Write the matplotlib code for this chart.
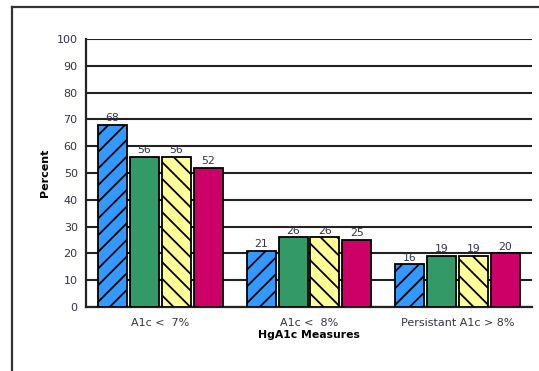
import matplotlib.pyplot as plt
import numpy as np
from matplotlib.lines import Line2D

plt.rcParams["hatch.linewidth"] = 1.3

categories = ["A1c <  7%", "A1c <  8%", "Persistant A1c > 8%"]
series_a = [68, 21, 16]
series_b = [56, 26, 19]
series_c = [56, 26, 19]
series_d = [52, 25, 20]

colors = ["#3399FF", "#339966", "#FFFF99", "#CC0066"]
hatches = ["//", "", "\\\\", ""]

fig = plt.figure(figsize=(5.39, 3.71), dpi=100, facecolor="white")
ax = fig.add_axes([0.1596, 0.1725, 0.8274, 0.7224])

x = np.arange(len(categories))
width = 0.195
step = 0.215
offsets = [-1.5, -0.5, 0.5, 1.5]
for vals, off, col, h in zip([series_a, series_b, series_c, series_d], offsets, colors, hatches):
    bars = ax.bar(x + off * step, vals, width, color=col, hatch=h,
                  edgecolor="black", linewidth=1.3, zorder=3)
    for b, v in zip(bars, vals):
        ax.text(b.get_x() + b.get_width() / 2, v + 0.6, f"{v}", ha="center", va="bottom",
                fontsize=7.8, color="#333344", zorder=4)

ax.set_xlim(-0.5, 2.5)
ax.set_ylim(0, 100)
ax.set_yticks(range(0, 101, 10))
ax.yaxis.grid(True, color="#222222", linewidth=1.5, zorder=0)
ax.set_axisbelow(True)
ax.tick_params(axis="y", length=0, labelsize=8, labelcolor="#333344", pad=6)
ax.tick_params(axis="x", length=0, labelsize=8, labelcolor="#333344", pad=8)
ax.set_xticks(x)
ax.set_xticklabels(categories)
for s in ["top", "right"]:
    ax.spines[s].set_visible(False)
for s in ["left", "bottom"]:
    ax.spines[s].set_linewidth(1.6)
    ax.spines[s].set_color("#222222")

ax.set_ylabel("Percent", fontsize=8, fontweight="bold", labelpad=5)
ax.set_xlabel("HgA1c Measures", fontsize=7.8, fontweight="bold", labelpad=1)

# outer frame (only top and left edges fall inside the canvas)
fx, fy = 12 / 539, 1 - 7 / 371
fig.add_artist(Line2D([fx, fx], [0, fy], transform=fig.transFigure, color="#333333", lw=1.6))
fig.add_artist(Line2D([fx, 1], [fy, fy], transform=fig.transFigure, color="#333333", lw=1.6))

fig.savefig("out.png", dpi=100, facecolor="white")
